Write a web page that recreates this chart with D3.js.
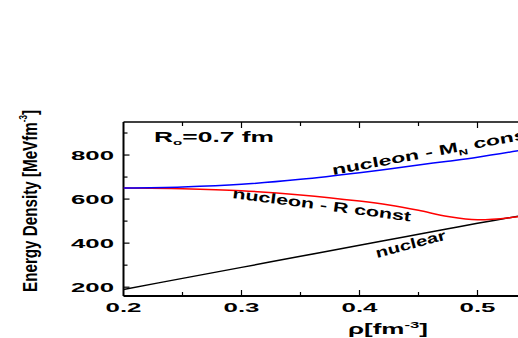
<!DOCTYPE html>
<html>
<head>
<meta charset="utf-8">
<script src="https://cdn.jsdelivr.net/npm/d3@7"></script>
<style>
  body { margin: 0; background: #fff; }
  svg { display: block; }
  .tick-label { font-family: "Liberation Sans", Arial, sans-serif; font-weight: bold; font-size: 12.5px; }
  .curve-label { font-family: "Liberation Sans", Arial, sans-serif; font-weight: bold; font-size: 14px; }
</style>
</head>
<body>
<svg id="chart"></svg>
<script>
var w = 518;
var h = 338;

// density values (fm^-3)
var rho = [0.2, 0.25, 0.3, 0.35, 0.4, 0.425, 0.45, 0.475, 0.5, 0.535];
// energy density (MeV fm^-3)
var nucleonMN = [650, 655, 667, 690, 720, 737, 755, 772, 790, 820];
var nucleonR  = [650, 647, 638, 619, 591, 573, 549, 521, 506, 520];
var nuclear   = [190, 240, 290, 340, 390, 415, 440, 465, 490, 523];

var xTicks = [0.2, 0.3, 0.4, 0.5];
var yTicks = [200, 400, 600, 800];

var svg = d3.select("#chart")
  .attr("width", w)
  .attr("height", h)

var x = d3.scaleLinear().domain([0.2, 0.55]).range([123.5, 536.5])
var y = d3.scaleLinear().domain([160, 950]).range([296, 122])

var plot = svg.append("g")

// frame
plot.append("line").attr("x1", x(0.2)).attr("x2", x(0.2)).attr("y1", y(950)).attr("y2", y(160))
  .attr("stroke", "#000").attr("stroke-width", 2)
plot.append("line").attr("x1", x(0.2)).attr("x2", x(0.55)).attr("y1", y(950)).attr("y2", y(950))
  .attr("stroke", "#000").attr("stroke-width", 1.5)
plot.append("line").attr("x1", x(0.2)).attr("x2", x(0.55)).attr("y1", y(160)).attr("y2", y(160))
  .attr("stroke", "#000").attr("stroke-width", 2)

// inward ticks
d3.range(200, 950, 100).forEach(function(v) {
  var len = v % 200 == 0 ? 6 : 4;
  plot.append("line").attr("x1", x(0.2)).attr("x2", x(0.2) + len)
    .attr("y1", y(v)).attr("y2", y(v)).attr("stroke", "#000").attr("stroke-width", 1.2)
})
d3.range(0.25, 0.55, 0.05).forEach(function(v) {
  var major = Math.abs(v * 10 - Math.round(v * 10)) < 1e-6;
  var len = major ? 6 : 4;
  plot.append("line").attr("x1", x(v)).attr("x2", x(v))
    .attr("y1", y(160)).attr("y2", y(160) - len).attr("stroke", "#000").attr("stroke-width", 1.2)
  plot.append("line").attr("x1", x(v)).attr("x2", x(v))
    .attr("y1", y(950)).attr("y2", y(950) + len).attr("stroke", "#000").attr("stroke-width", 1.2)
})

// tick labels
svg.selectAll(".ylab")
  .data(yTicks)
  .enter()
  .append("text")
  .attr("class", "tick-label")
  .attr("x", 114)
  .attr("y", function(d) { return y(d) + 4.5 })
  .attr("text-anchor", "end")
  .attr("textLength", 43)
  .attr("lengthAdjust", "spacingAndGlyphs")
  .text(function(d) { return d })

svg.selectAll(".xlab")
  .data(xTicks)
  .enter()
  .append("text")
  .attr("class", "tick-label")
  .attr("x", function(d) { return x(d) - 18 })
  .attr("y", 312)
  .attr("textLength", 36)
  .attr("lengthAdjust", "spacingAndGlyphs")
  .text(function(d) { return d.toFixed(1) })

// curves
var clip = svg.append("clipPath").attr("id", "clip")
  .append("rect").attr("x", x(0.2)).attr("y", y(950)).attr("width", w - x(0.2)).attr("height", y(160) - y(950))

function drawLine(vals, color) {
  var line = d3.line()
    .x(function(d, i) { return x(rho[i]) })
    .y(function(d) { return y(d) })
    .curve(d3.curveCatmullRom.alpha(0.5))
  svg.append("path")
    .datum(vals)
    .attr("d", line)
    .attr("clip-path", "url(#clip)")
    .attr("fill", "none")
    .attr("stroke", color)
    .attr("stroke-width", 1.5)
}
drawLine(nuclear, "#000")
drawLine(nucleonR, "#ff0000")
drawLine(nucleonMN, "#0000ff")

// curve labels
function label(px, py, angle, len, parts) {
  var t = svg.append("text")
    .attr("class", "curve-label")
    .attr("transform", "translate(" + px + "," + py + ") rotate(" + angle + ")")
    .attr("textLength", len)
    .attr("lengthAdjust", "spacingAndGlyphs")
  parts.forEach(function(p) {
    var s = t.append("tspan").text(p[0])
    if (p[1] == "sub") s.attr("font-size", "8px").attr("dy", 4)
    if (p[1] == "back") s.attr("dy", -4)
  })
  return t
}

label(333, 175, -10.5, 205, [["nucleon - M"], ["N", "sub"], [" const", "back"]])
label(232, 198, 7.5, 180, [["nucleon - R const"]])
label(377, 258, -15, 72, [["nuclear"]])

// R0 annotation
var r0 = svg.append("text")
  .attr("x", 154).attr("y", 142)
  .attr("font-family", "Liberation Sans, Arial, sans-serif")
  .attr("font-weight", "bold")
  .attr("font-size", "14px")
  .attr("textLength", 120)
  .attr("lengthAdjust", "spacingAndGlyphs")
r0.append("tspan").text("R")
r0.append("tspan").text("o").attr("font-size", "8px").attr("dy", 3)
r0.append("tspan").text("=0.7 fm").attr("dy", -3)

// axis titles
var yt = svg.append("text")
  .attr("transform", "translate(37,292) rotate(-90)")
  .attr("font-family", "Liberation Sans Narrow, Arial Narrow, sans-serif")
  .attr("font-weight", "bold")
  .attr("font-size", "21px")
  .attr("textLength", 182)
  .attr("lengthAdjust", "spacingAndGlyphs")
yt.append("tspan").text("Energy Density [MeVfm")
yt.append("tspan").text("-3").attr("font-size", "11px").attr("dy", -10)
yt.append("tspan").text("]").attr("dy", 10)

var xt = svg.append("text")
  .attr("x", 348).attr("y", 334)
  .attr("font-family", "Liberation Sans, Arial, sans-serif")
  .attr("font-weight", "bold")
  .attr("font-size", "14px")
  .attr("textLength", 80)
  .attr("lengthAdjust", "spacingAndGlyphs")
xt.append("tspan").text("ρ[fm")
xt.append("tspan").text("-3").attr("font-size", "9px").attr("dy", -6)
xt.append("tspan").text("]").attr("dy", 6)
</script>
</body>
</html>
